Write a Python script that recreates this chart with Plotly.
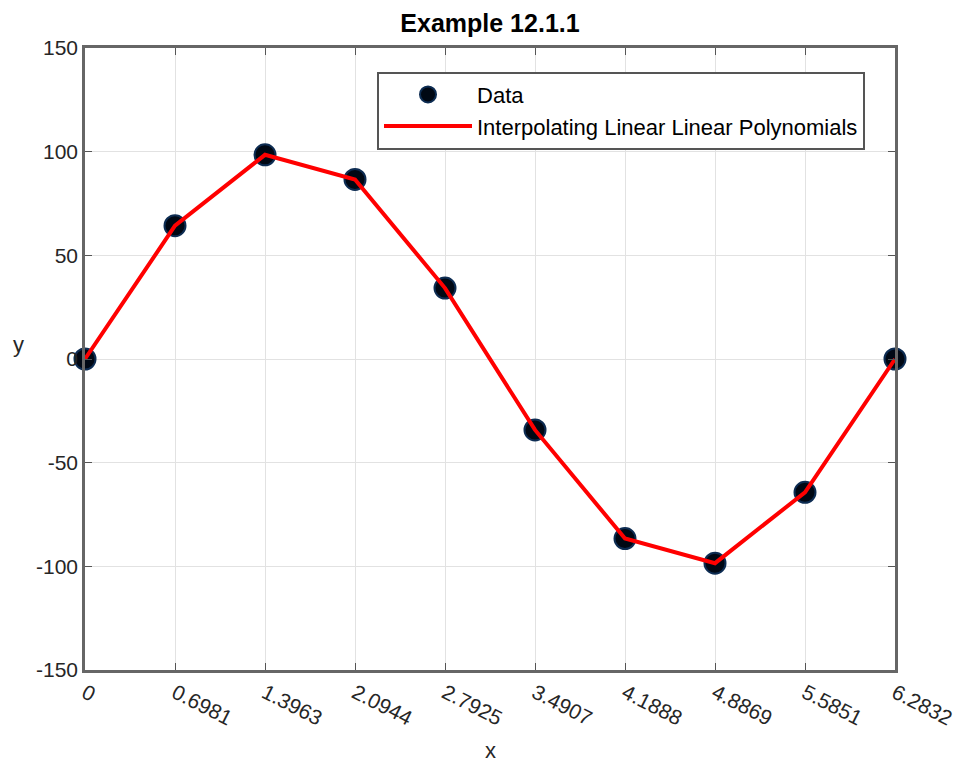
import plotly.graph_objects as go

# Sample points on [0, 2*pi] and their y values
x_vals = [0.0, 0.6981, 1.3963, 2.0944, 2.7925, 3.4907, 4.1888, 4.8869, 5.5851, 6.2832]
y_vals = [0.0, 64.28, 98.48, 86.60, 34.20, -34.20, -86.60, -98.48, -64.28, 0.0]
x_tick_labels = ["0", "0.6981", "1.3963", "2.0944", "2.7925", "3.4907",
                 "4.1888", "4.8869", "5.5851", "6.2832"]
y_ticks = [-150, -100, -50, 0, 50, 100, 150]
y_tick_labels = ["-150", "-100", "-50", "0", "50", "100", "150"]

font_family = "Liberation Sans, Arial, sans-serif"
text_color = "#262626"

fig = go.Figure()
fig.add_trace(go.Scatter(
    x=x_vals, y=y_vals, mode="markers", name="Data", cliponaxis=False,
    marker=dict(size=21, color="#000814", line=dict(color="#0d2c52", width=2)),
))
fig.add_trace(go.Scatter(
    x=x_vals, y=y_vals, mode="lines", name="Interpolating Linear Linear Polynomials",
    cliponaxis=False, line=dict(color="#ff0000", width=4),
))

axis_common = dict(
    showline=True, linecolor="#666666", linewidth=2.5, mirror="ticks",
    ticks="inside", ticklen=7, tickcolor="#555555", tickwidth=1.2,
    showgrid=True, gridcolor="#e2e2e2", gridwidth=1, zeroline=False,
    automargin=False,
    tickfont=dict(family=font_family, size=21, color=text_color),
)

fig.update_xaxes(
    range=[0, 6.2832], tickvals=x_vals, ticktext=x_tick_labels, tickangle=27,
    **axis_common,
)
fig.update_yaxes(
    range=[-150, 150], tickvals=y_ticks, ticktext=y_tick_labels,
    **axis_common,
)

fig.update_layout(
    width=961, height=765,
    margin=dict(l=85, r=66, t=48, b=95, autoexpand=False),
    paper_bgcolor="white", plot_bgcolor="white",
    title=dict(text="<b>Example 12.1.1</b>", x=(85 + 895) / 2 / 961, xanchor="center",
               y=1 - 23 / 765, yanchor="middle",
               font=dict(family=font_family, size=25, color="#000000")),
    legend=dict(
        x=0.3605, y=0.962, xanchor="left", yanchor="top",
        bgcolor="white", bordercolor="#555555", borderwidth=2,
        font=dict(family=font_family, size=22, color="#000000"),
        tracegroupgap=0, itemwidth=88,
    ),
    showlegend=True,
    annotations=[
        dict(text="x", x=0.5, y=-80 / 622, xref="paper", yref="paper",
             xanchor="center", yanchor="middle", showarrow=False,
             font=dict(family=font_family, size=22, color=text_color)),
        dict(text="y", x=-67 / 810, y=0.5 + 15 / 622, xref="paper", yref="paper",
             xanchor="center", yanchor="middle", showarrow=False,
             font=dict(family=font_family, size=22, color=text_color)),
    ],
)

fig.write_html("out.html")
